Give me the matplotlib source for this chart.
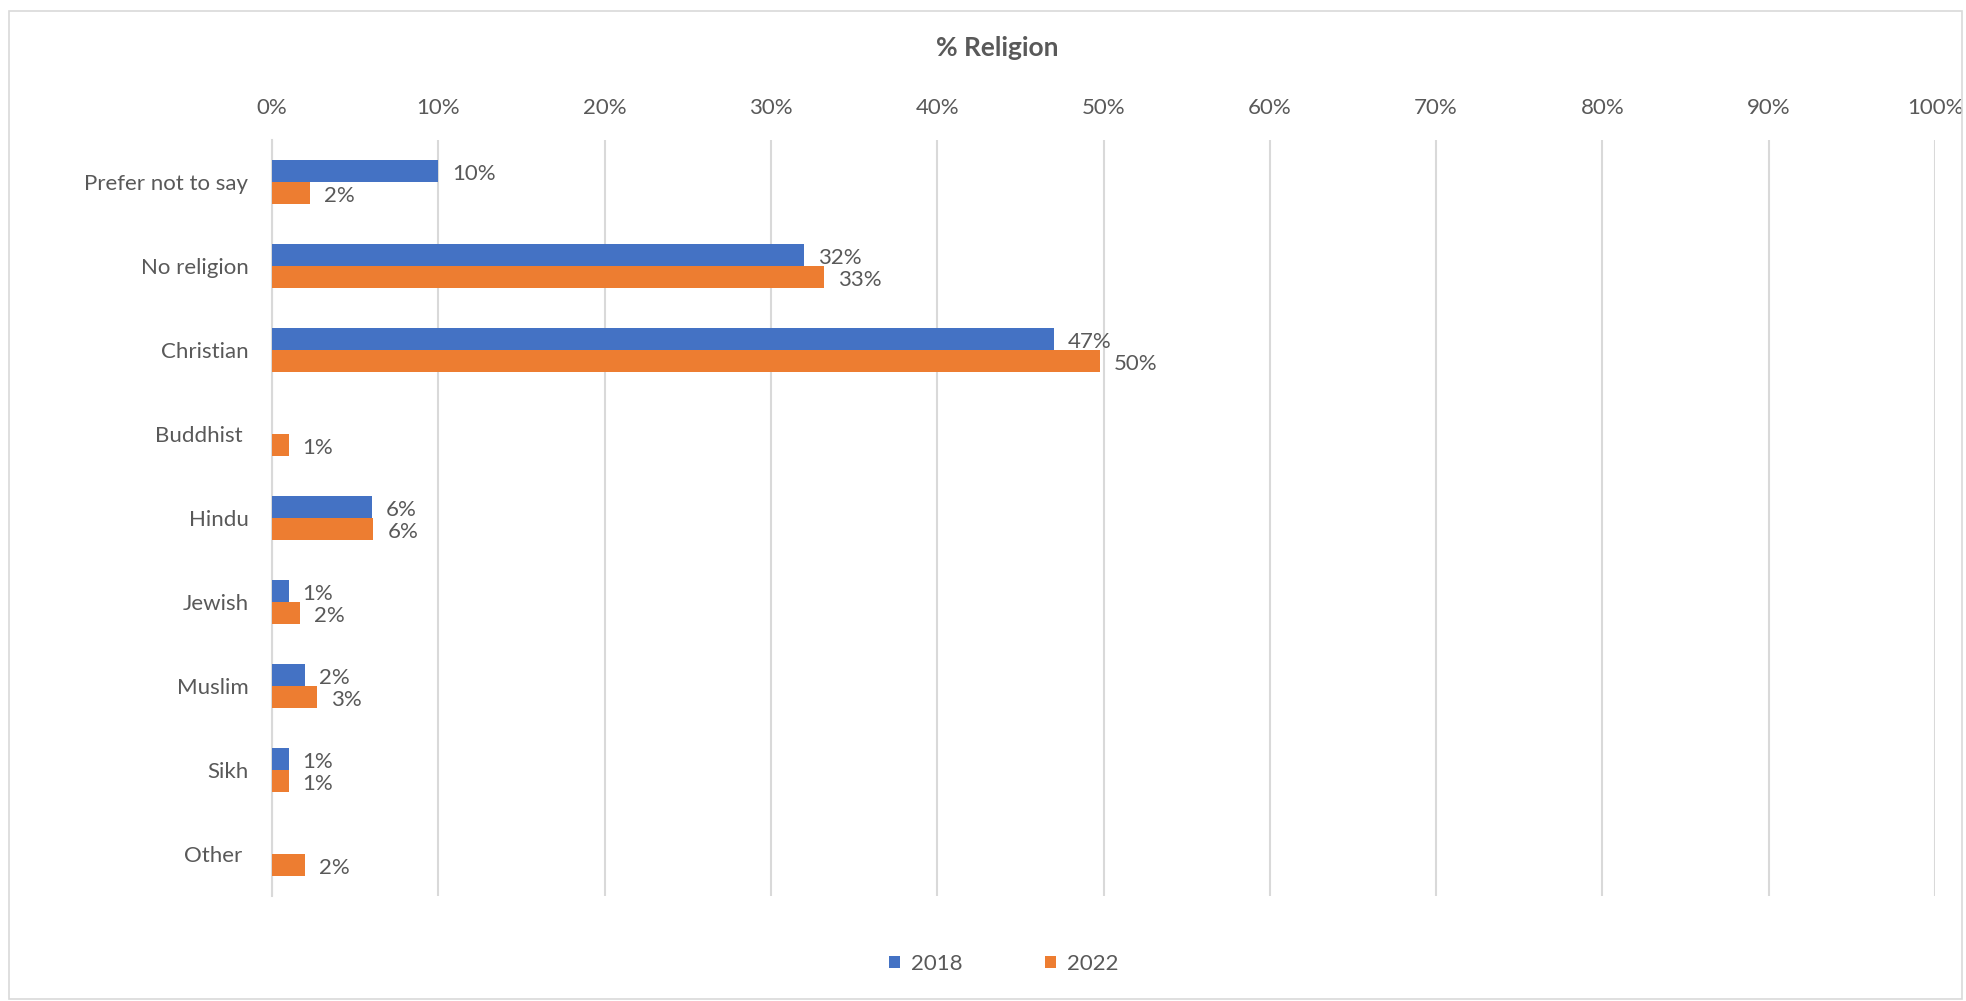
import matplotlib
matplotlib.use("Agg")
import matplotlib.pyplot as plt
from matplotlib.patches import Rectangle, Patch
import numpy as np

categories = ["Prefer not to say", "No religion", "Christian", "Buddhist ", "Hindu",
              "Jewish", "Muslim", "Sikh", "Other "]
series_names = ["2018", "2022"]
values_2018 = [10.0, 32.0, 47.0, None, 6.0, 1.0, 2.0, 1.0, None]
values_2022 = [2.3, 33.2, 49.8, 1.0, 6.1, 1.7, 2.7, 1.0, 2.0]
x_ticks = [0, 10, 20, 30, 40, 50, 60, 70, 80, 90, 100]
title = "% Religion"

BLUE = "#4472C4"
ORANGE = "#ED7D31"
TEXT = "#595959"
GRID = "#D9D9D9"

plt.rcParams["font.family"] = ["Lato", "DejaVu Sans"]

fig = plt.figure(figsize=(19.66, 10.01), dpi=100)
fig.patch.set_facecolor("white")

# light outer frame around the chart
fig.patches.append(Rectangle((9 / 1966, 2 / 1001), 1953 / 1966, 988 / 1001,
                             transform=fig.transFigure, fill=False,
                             edgecolor=GRID, linewidth=1.2))

ax = fig.add_axes([272 / 1966, 1 - 896 / 1001, (1935 - 272) / 1966, (896 - 140) / 1001])

n = len(categories)
pos = np.arange(n)
h = 0.26

for vals, color, offset in [(values_2018, BLUE, -h / 2), (values_2022, ORANGE, h / 2)]:
    for i, v in enumerate(vals):
        if v is None:
            continue
        ax.barh(pos[i] + offset, v, height=h, color=color, edgecolor="none", zorder=3)
        ax.annotate(f"{v:.0f}%", xy=(v, pos[i] + offset), xytext=(10, -2),
                    textcoords="offset points", va="center", ha="left",
                    fontsize=16, color=TEXT)

ax.set_xlim(0, 100)
ax.set_ylim(n - 0.5, -0.5)
ax.set_xticks(x_ticks)
ax.set_xticklabels([f"{t}%" for t in x_ticks], fontsize=16, color=TEXT)
ax.xaxis.tick_top()
ax.tick_params(axis="x", length=0, pad=16)
ax.set_yticks(pos)
ax.set_yticklabels(categories, fontsize=16, color=TEXT)
ax.tick_params(axis="y", length=0, pad=17)

ax.grid(axis="x", color=GRID, linewidth=1.5, zorder=0)
for s in ["top", "right", "bottom"]:
    ax.spines[s].set_visible(False)
ax.spines["left"].set_color(GRID)
ax.spines["left"].set_linewidth(1.5)

fig.text(997 / 1966, 1 - 48 / 1001, title, ha="center", va="center",
         fontsize=19, fontweight="bold", color=TEXT)

handles = [Patch(facecolor=BLUE, edgecolor="none"), Patch(facecolor=ORANGE, edgecolor="none")]
fig.legend(handles, series_names, loc="center", bbox_to_anchor=(1004 / 1966, 1 - 964 / 1001),
           ncol=2, frameon=False, fontsize=16, labelcolor=TEXT,
           handlelength=0.5, handleheight=0.5, handletextpad=0.5, columnspacing=3.7)

fig.savefig("out.png", dpi=100, facecolor="white")
